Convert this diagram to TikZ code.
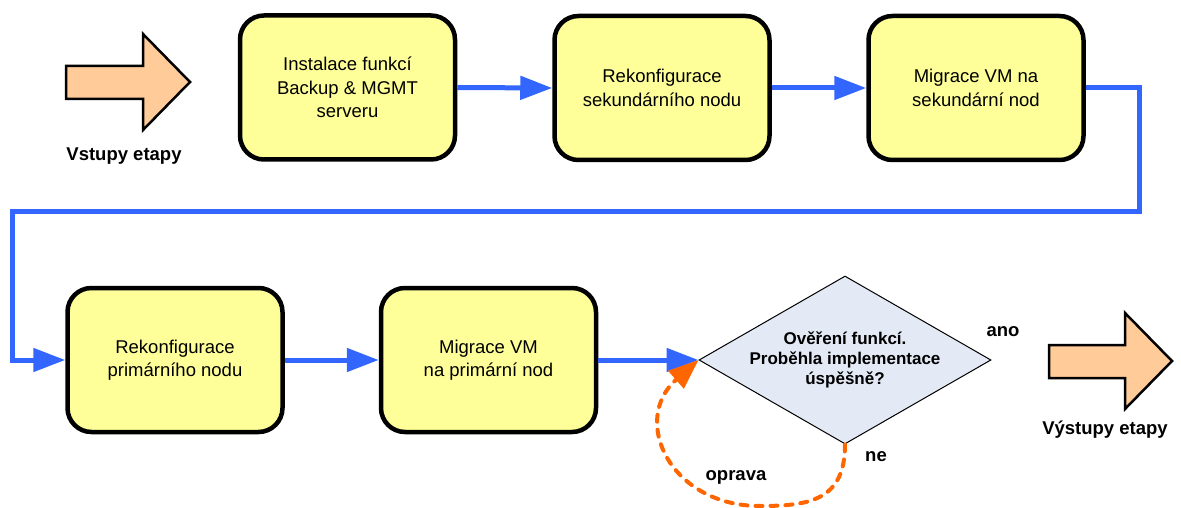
\documentclass[tikz,border=0pt]{standalone}
\usepackage{fontspec}
\setmainfont{Liberation Sans}
\usetikzlibrary{arrows.meta,shapes.geometric}
\definecolor{flowblue}{HTML}{3366FF}
\definecolor{fixorange}{HTML}{FF6600}
\definecolor{boxyellow}{HTML}{FFFF99}
\definecolor{arrowfill}{HTML}{FFCC99}
\definecolor{diafill}{HTML}{E4EAF5}
\begin{document}
\begin{tikzpicture}[x=1pt,y=-1pt,
  stepbox/.style={draw=black, line width=4.5pt, fill=boxyellow, rounded corners=24pt,
    minimum width=215pt, minimum height=144pt, align=center, inner sep=0pt,
    font=\fontsize{18.5}{23.5}\selectfont},
  flow/.style={draw=flowblue, line width=5pt, -{Triangle[length=32pt,width=23pt]}},
  fixflow/.style={draw=fixorange, line width=4pt, line cap=round, dash pattern=on 7pt off 8pt,
    -{Triangle[length=30pt,width=23pt]}},
  bigarrow/.style={draw=black, line width=2.5pt, fill=arrowfill, line join=miter},
  lbl/.style={font=\bfseries\fontsize{18.5}{22}\selectfont, inner sep=0pt},
  dialbl/.style={font=\bfseries\fontsize{17}{20}\selectfont, align=center, inner sep=0pt}
]
\useasboundingbox (0,0) rectangle (1181,508);

% input / output arrows
\draw[bigarrow] (66,66) -- (143,66) -- (143,34) -- (190,82) -- (143,130) -- (143,99) -- (66,99) -- cycle;
\node[lbl] (inlbl) at (124,156) {Vstupy etapy};
\draw[bigarrow] (1049,345) -- (1125,345) -- (1125,313) -- (1172,361) -- (1125,409) -- (1125,378) -- (1049,378) -- cycle;
\node[lbl] (outlbl) at (1105,430) {Výstupy etapy};

% steps
\node[stepbox] (b1) at (347.5,87.5) {Instalace funkcí\\Backup \& MGMT\\serveru};
\node[stepbox] (b2) at (662,88) {Rekonfigurace\\sekundárního nodu};
\node[stepbox] (b3) at (976,88) {Migrace VM na\\sekundární nod};
\node[stepbox] (b4) at (175,360) {Rekonfigurace\\primárního nodu};
\node[stepbox] (b5) at (488.5,360) {Migrace VM\\na primární nod};

% decision
\node[diamond, draw=black, line width=1pt, fill=diafill, minimum width=292pt, minimum height=168pt, inner sep=0pt] (dia) at (845,360) {};
\node[dialbl] (diatext) at (dia.center) {Ověření funkcí.\\Proběhla implementace\\úspěšně?};

% connectors
\coordinate (c1) at (1139,88);
\coordinate (c2) at (1139,211);
\coordinate (c3) at (12,211);
\coordinate (c4) at (12,360);
\draw[flow] (b1.east) -- (b2.west);
\draw[flow] (b2.east) -- (b3.west);
\draw[flow] (b3.east) -- (c1) -- (c2) -- (c3) -- (c4) -- (b4.west);
\draw[flow] (b4.east) -- (b5.west);
\draw[flow] (b5.east) -- (dia.west);
\draw[fixflow] (dia.south) .. controls (845,500) and (810,506) .. (760,506)
  .. controls (670,506) and (630,420) .. (dia.west);

% branch labels
\node[lbl] (ano) at (1003,332) {ano};
\node[lbl] (ne) at (876,457) {ne};
\node[lbl] (oprava) at (736,477) {oprava};
\end{tikzpicture}
\end{document}
